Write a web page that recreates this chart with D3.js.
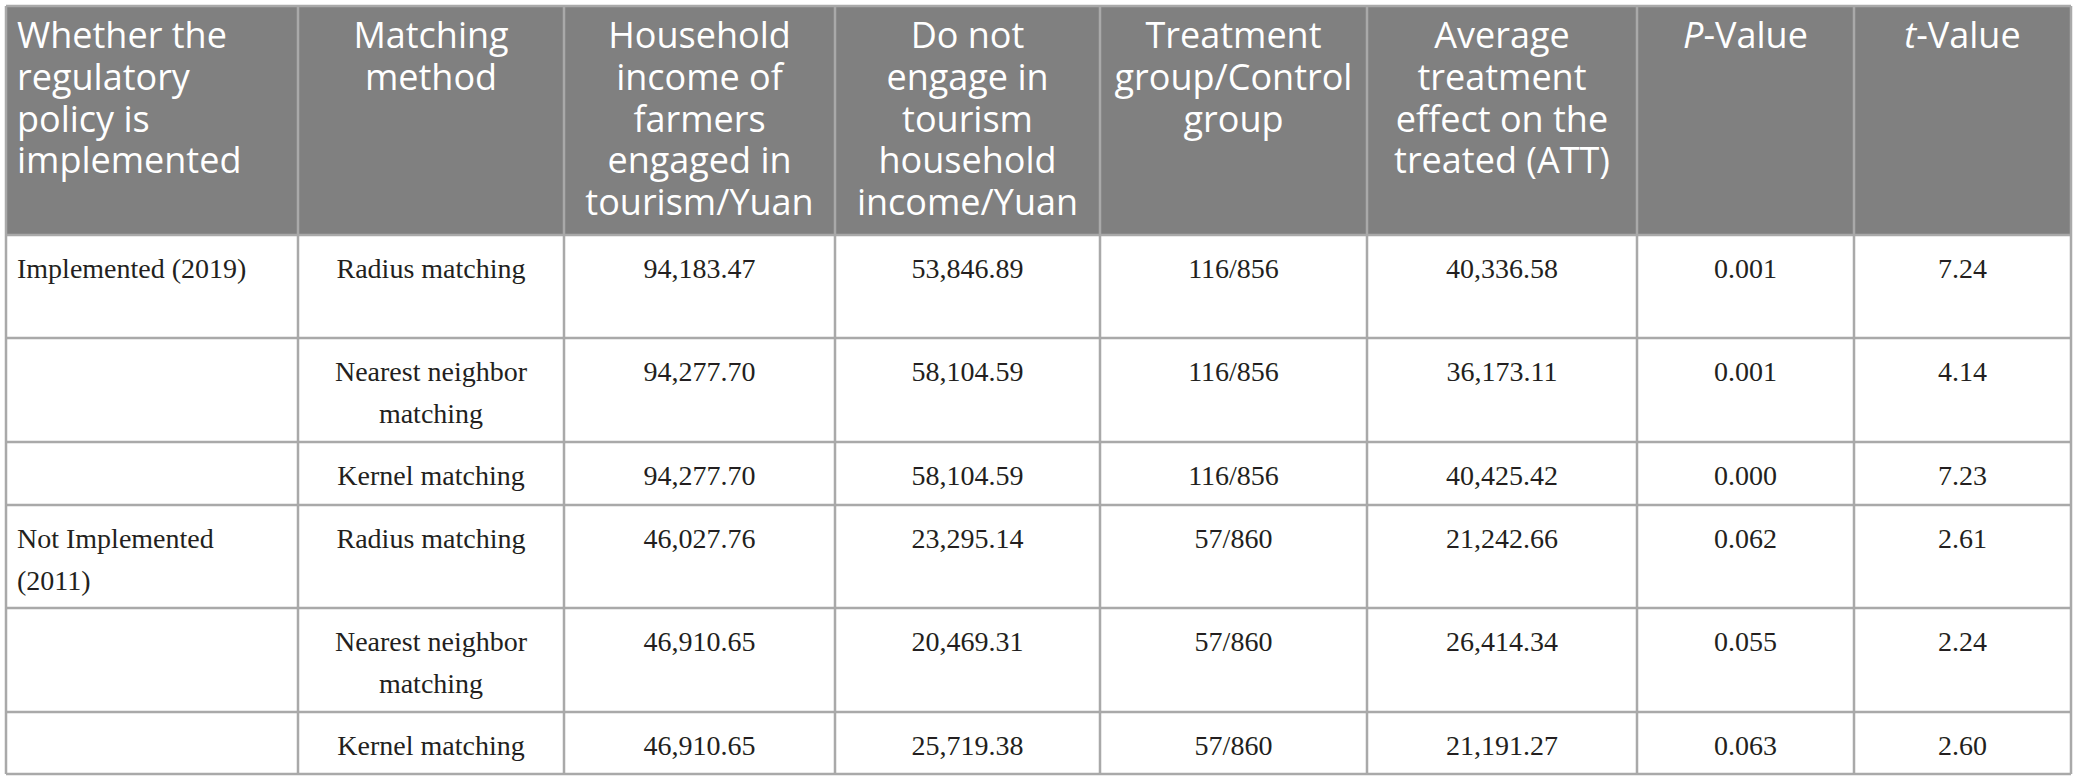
<!DOCTYPE html>
<html>
<head>
<meta charset="utf-8">
<script src="https://cdn.jsdelivr.net/npm/d3@7/dist/d3.min.js"></script>
<style>
  html, body { margin: 0; padding: 0; background: #ffffff; }
  svg { display: block; }
</style>
</head>
<body>
<svg id="chart" width="2078" height="781"></svg>
<script>
// ---------- DATA ----------
const headers = [
  "Whether the\nregulatory\npolicy is\nimplemented",
  "Matching\nmethod",
  "Household\nincome of\nfarmers\nengaged in\ntourism/Yuan",
  "Do not\nengage in\ntourism\nhousehold\nincome/Yuan",
  "Treatment\ngroup/Control\ngroup",
  "Average\ntreatment\neffect on the\ntreated (ATT)",
  "*P*-Value",
  "*t*-Value"
];
const policyGroups = ["Implemented (2019)", "", "", "Not Implemented\n(2011)", "", ""];
const methods = ["Radius matching", "Nearest neighbor\nmatching", "Kernel matching",
                 "Radius matching", "Nearest neighbor\nmatching", "Kernel matching"];
const incomeTourism = ["94,183.47", "94,277.70", "94,277.70", "46,027.76", "46,910.65", "46,910.65"];
const incomeNoTourism = ["53,846.89", "58,104.59", "58,104.59", "23,295.14", "20,469.31", "25,719.38"];
const groupSizes = ["116/856", "116/856", "116/856", "57/860", "57/860", "57/860"];
const att = ["40,336.58", "36,173.11", "40,425.42", "21,242.66", "26,414.34", "21,191.27"];
const pValues = ["0.001", "0.001", "0.000", "0.062", "0.055", "0.063"];
const tValues = ["7.24", "4.14", "7.23", "2.61", "2.24", "2.60"];

const columns = [policyGroups, methods, incomeTourism, incomeNoTourism, groupSizes, att, pValues, tValues];
const rows = d3.range(methods.length).map(i => columns.map(c => c[i]));

// ---------- LAYOUT ----------
const tLeft = 6, tTop = 6;
const colWidths = [292, 266, 271, 265, 267, 270, 217, 217];
const headerHeight = 229;
const rowHeights = [103, 104, 63, 103, 104, 62];

const colIdx = d3.range(colWidths.length);
const colStarts = [0, ...d3.cumsum(colWidths)].map(v => v + tLeft);
const x = d3.scaleOrdinal().domain(colIdx).range(colStarts.slice(0, -1));
const w = d3.scaleOrdinal().domain(colIdx).range(colWidths);
const tableRight = colStarts[colStarts.length - 1];

const rowIdx = d3.range(rows.length);
const rowStarts = [0, ...d3.cumsum(rowHeights)].map(v => v + tTop + headerHeight);
const y = d3.scaleOrdinal().domain(rowIdx).range(rowStarts.slice(0, -1));
const tableBottom = rowStarts[rowStarts.length - 1];

const svg = d3.select("#chart");

const headerFont = "'Open Sans', 'Noto Sans', sans-serif";
const bodyFont = "'Liberation Serif', 'Times New Roman', serif";
const gridColor = "#a9a9a9";

// header background
svg.append("rect")
  .attr("x", tLeft).attr("y", tTop)
  .attr("width", tableRight - tLeft).attr("height", headerHeight)
  .attr("fill", "#808080");

// header text (one text element per line)
const headG = svg.append("g");
headers.forEach((label, ci) => {
  const lines = label.split("\n");
  const anchorStart = ci === 0;
  const tx = anchorStart ? x(ci) + 11 : x(ci) + w(ci) / 2;
  lines.forEach((ln, li) => {
    const t = headG.append("text")
      .attr("x", tx)
      .attr("y", tTop + 42 + li * 41.8)
      .attr("font-family", headerFont)
      .attr("font-size", 36)
      .attr("fill", "#ffffff")
      .attr("text-anchor", anchorStart ? "start" : "middle");
    ln.split("*").forEach((p, pi) => {
      if (p === "") return;
      t.append("tspan").attr("font-style", pi % 2 === 1 ? "italic" : "normal").text(p);
    });
  });
});

// body text (one text element per line)
const bodyG = svg.append("g");
rows.forEach((row, ri) => {
  row.forEach((val, ci) => {
    if (!val) return;
    const anchorStart = ci === 0;
    const tx = anchorStart ? x(ci) + 11 : x(ci) + w(ci) / 2;
    val.split("\n").forEach((ln, li) => {
      bodyG.append("text")
        .attr("x", tx)
        .attr("y", y(ri) + 43 + li * 42)
        .attr("font-family", bodyFont)
        .attr("font-size", 28)
        .attr("fill", "#231f20")
        .attr("text-anchor", anchorStart ? "start" : "middle")
        .text(ln);
    });
  });
});

// grid lines
const gridG = svg.append("g").attr("stroke", gridColor).attr("stroke-width", 2.5).attr("fill", "none");
const hLines = [tTop, ...rowStarts];
gridG.selectAll("line.h").data(hLines).enter().append("line")
  .attr("class", "h")
  .attr("x1", tLeft).attr("x2", tableRight)
  .attr("y1", d => d).attr("y2", d => d);
gridG.selectAll("line.v").data(colStarts).enter().append("line")
  .attr("class", "v")
  .attr("x1", d => d).attr("x2", d => d)
  .attr("y1", tTop).attr("y2", tableBottom);
</script>
</body>
</html>
